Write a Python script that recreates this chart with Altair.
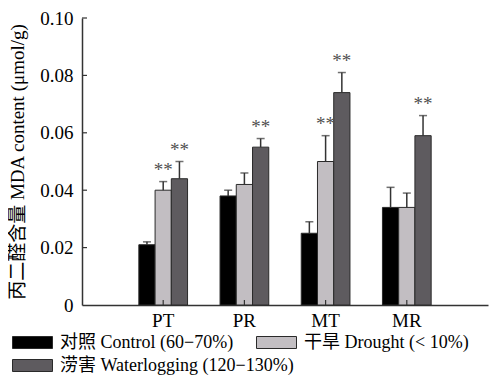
import altair as alt
import pandas as pd

groups = ["PT", "PR", "MT", "MR"]
treatments = ["对照 Control (60−70%)", "干旱 Drought (< 10%)", "涝害 Waterlogging (120−130%)"]
colors = ["#000000", "#c2bec2", "#5e5b5f"]

control = [0.021, 0.038, 0.025, 0.034]
control_err = [0.001, 0.002, 0.004, 0.007]
drought = [0.040, 0.042, 0.050, 0.034]
drought_err = [0.003, 0.004, 0.009, 0.005]
water = [0.044, 0.055, 0.074, 0.059]
water_err = [0.006, 0.003, 0.007, 0.007]
control_sig = ["", "", "", ""]
drought_sig = ["**", "", "**", ""]
water_sig = ["**", "**", "**", "**"]

y_ticks = [0.02, 0.04, 0.06, 0.08, 0.10]
y_values = [0, 0.02, 0.04, 0.06, 0.08, 0.10]

rows = []
for t, vals, errs, sigs in zip(treatments, [control, drought, water],
                               [control_err, drought_err, water_err],
                               [control_sig, drought_sig, water_sig]):
    for g, v, e, s in zip(groups, vals, errs, sigs):
        rows.append({"group": g, "treatment": t, "value": v, "top": v + e, "star": s})
df = pd.DataFrame(rows)

FONT = "'Liberation Serif', 'Noto Sans CJK SC', serif"
FS = 19
W, H = 406, 287

x_axis = alt.Axis(title=None, labelAngle=0, ticks=False, labelFontSize=FS, labelPadding=6,
                  domainColor="#333333", domainWidth=1.5, labelColor="black", labelFont=FONT)
x_scale = alt.Scale(paddingInner=0.4, paddingOuter=0.7)
xenc = alt.X("group:N", sort=groups, scale=x_scale, axis=x_axis)
xo = alt.XOffset("treatment:N", sort=treatments, scale=alt.Scale(domain=treatments, paddingInner=0, paddingOuter=0))

y_axis = alt.Axis(title="丙二醛含量 MDA content (μmol/g)", values=y_values,
                  labelExpr="datum.value == 0 ? '0' : format(datum.value, '.2f')",
                  ticks=False, grid=False, labelFontSize=FS, labelFont=FONT, labelColor="black",
                  labelPadding=9, domainColor="#333333", domainWidth=1.5,
                  titleFont=FONT, titleFontSize=FS, titleFontWeight="normal", titleColor="black",
                  titlePadding=12)
y_scale = alt.Scale(domain=[0, 0.1], nice=False)

bars = alt.Chart(df).mark_bar(stroke="#2a2a2a", strokeWidth=1).encode(
    x=xenc, xOffset=xo,
    y=alt.Y("value:Q", scale=y_scale, axis=y_axis),
    color=alt.Color("treatment:N", sort=treatments,
                    scale=alt.Scale(domain=treatments, range=colors),
                    legend=alt.Legend(title=None, orient="none", legendX=-70, legendY=304,
                                      columns=2, gridAlign="none", direction="horizontal",
                                      symbolType="M-1,-0.3H1V0.3H-1Z", symbolSize=1600,
                                      symbolStrokeColor="#2a2a2a", symbolStrokeWidth=1,
                                      labelFont=FONT, labelFontSize=18, labelColor="black",
                                      labelOffset=7, columnPadding=-40, rowPadding=-7,
                                      labelLimit=400)),
)

err = alt.Chart(df).mark_rule(color="#333333", strokeWidth=1.5).encode(
    x=xenc, xOffset=xo,
    y=alt.Y("value:Q", scale=y_scale, axis=y_axis), y2="top:Q",
)
caps = alt.Chart(df).mark_tick(color="#333333", thickness=1.5, size=8, orient="horizontal").encode(
    x=xenc, xOffset=xo,
    y=alt.Y("top:Q", scale=y_scale, axis=y_axis),
)
stars = alt.Chart(df).transform_filter("datum.star != ''").mark_text(
    font=FONT, fontSize=FS, color="#505050", baseline="middle", dy=-12
).encode(
    x=xenc, xOffset=xo,
    y=alt.Y("top:Q", scale=y_scale, axis=y_axis),
    text="star:N",
)

ytk = alt.Chart(pd.DataFrame({"t": y_ticks})).mark_rule(color="#333333", strokeWidth=1.2).encode(
    y=alt.Y("t:Q", scale=y_scale, axis=y_axis), x=alt.value(0), x2=alt.value(5),
)
xtk = alt.Chart(pd.DataFrame({"group": groups})).mark_rule(color="#333333", strokeWidth=1.2).encode(
    x=xenc, y=alt.value(H), y2=alt.value(H - 5),
)

chart = alt.layer(bars, err, caps, stars, ytk, xtk).properties(
    width=W, height=H,
    autosize=alt.AutoSizeParams(type="none"),
    padding={"left": 74, "top": 10, "right": 7, "bottom": 71},
    background="white",
).configure_view(stroke=None)

chart.save("out.html", embed_options={"renderer": "svg", "actions": False})
